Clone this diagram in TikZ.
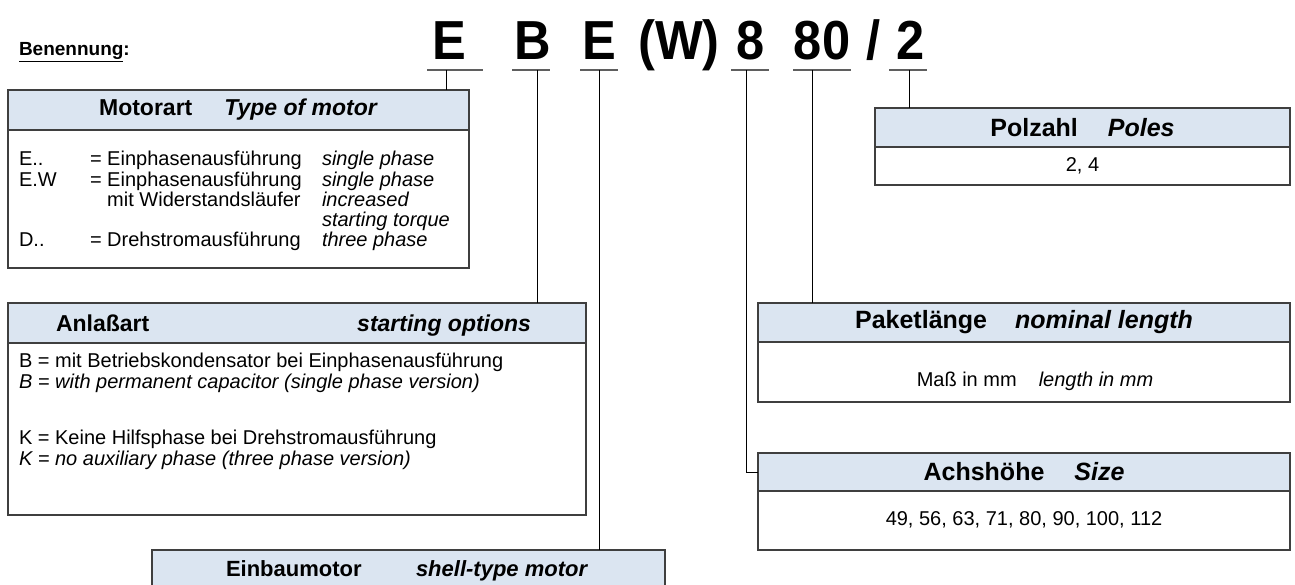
\documentclass[tikz,border=0pt]{standalone}
\usepackage{fontspec}
\setmainfont{Liberation Sans}
\usetikzlibrary{positioning}
\definecolor{headblue}{HTML}{DBE5F1}
\definecolor{boxgray}{HTML}{3F3F3F}
\definecolor{linegray}{HTML}{5F5F5F}

\begin{document}
\begin{tikzpicture}[x=1pt,y=-1pt,every node/.style={outer sep=0pt,inner sep=0pt}]
\tikzstyle{head}=[draw=boxgray,fill=headblue,line width=1.4pt,font=\fontsize{23}{26}\selectfont\bfseries]
\tikzstyle{headr}=[head,font=\fontsize{25}{30}\selectfont\bfseries]
\tikzstyle{htxt}=[font=\fontsize{23}{26}\selectfont\bfseries]
\tikzstyle{body}=[draw=boxgray,line width=1.4pt]
\tikzstyle{big}=[font=\fontsize{55}{60}\selectfont\bfseries,xscale=0.92,transform shape]
\tikzstyle{txt}=[font=\fontsize{20}{19}\selectfont]
\tikzstyle{txtb}=[font=\fontsize{20}{21}\selectfont]
\tikzstyle{uline}=[draw=linegray,line width=2pt]
\tikzstyle{con}=[draw=black,line width=1pt]

\useasboundingbox (0,0) rectangle (1295,585);

\node (ben) [font=\fontsize{19}{22}\selectfont\bfseries, anchor=base west] at (19,56) {\underline{Benennung}:};

% type code
\node (tE1) [big, anchor=base] at (449,60) {E};
\node (tB) [big, anchor=base] at (533,60) {B};
\node (tE2) [big, anchor=base] at (599,60) {E};
\node (tW) [big, anchor=base] at (679,60) {(W)};
\node (t8) [big, anchor=base] at (751,60) {8};
\node (t80) [big, anchor=base] at (822,60) {80};
\node (tsl) [big, anchor=base] at (874,60) {/};
\node (t2) [big, anchor=base] at (911,60) {2};

\foreach \a/\b in {427/483,512/550,580/618,731/769,793/851,889/927}
  \draw[uline] (\a,70) -- (\b,70);

\coordinate (lE1) at (446,70);
\coordinate (lB) at (537,70);
\coordinate (lE2) at (599,70);
\coordinate (l8) at (746,70);
\coordinate (l80) at (812,70);
\coordinate (l2) at (909,70);

% Motorart
\node (motH) [head, minimum width=461pt, minimum height=40pt, anchor=north west] at (8,90) {Motorart\hspace{32pt}\textit{Type of motor}};
\node (motB) [body, minimum width=461pt, minimum height=138pt, below=0pt of motH] {};
\node (motT) [txt, anchor=base west] at (19,166) {\begin{tabular}[t]{@{}p{71pt}@{}p{232pt}@{}l@{}}
E.. & = Einphasenausführung & \textit{single phase}\\
E.W & = Einphasenausführung & \textit{single phase}\\
 & \hphantom{= }mit Widerstandsläufer & \textit{increased}\\
 & & \textit{starting torque}\\
D.. & = Drehstromausführung & \textit{three phase}
\end{tabular}};

% Anlassart
\node (anlH) [head, minimum width=578pt, minimum height=40pt, anchor=north west] at (8,303) {};
\node (anlB) [body, minimum width=578pt, minimum height=172pt, below=0pt of anlH] {};
\node (anlL) [htxt, anchor=base west] at (56,331) {Anlaßart};
\node (anlR) [htxt, font=\fontsize{23}{26}\selectfont\bfseries\itshape, anchor=base east] at (531,331) {starting options};
\node (anlT1) [txtb, anchor=base west, align=left] at (19,388) {B = mit Betriebskondensator bei Einphasenausführung\\\textit{B = with permanent capacitor (single phase version)}};
\node (anlT2) [txtb, anchor=base west, align=left] at (19,465) {K = Keine Hilfsphase bei Drehstromausführung\\\textit{K = no auxiliary phase (three phase version)}};

% Einbaumotor
\node (einH) [head, minimum width=513pt, minimum height=48pt, anchor=north west] at (152,550) {};
\node (einL) [htxt, font=\fontsize{22}{26}\selectfont\bfseries, anchor=base west] at (226,576) {Einbaumotor};
\node (einR) [htxt, font=\fontsize{22}{26}\selectfont\bfseries\itshape, anchor=base west] at (416,576) {shell-type motor};

% Polzahl
\node (polH) [headr, minimum width=415pt, minimum height=39pt, anchor=north west] at (875,108) {Polzahl\hspace{30pt}\textit{Poles}};
\node (polB) [body, txt, minimum width=415pt, minimum height=38pt, below=0pt of polH] {2, 4};

% Paketlaenge
\node (pakH) [headr, minimum width=532pt, minimum height=39pt, anchor=north west] at (758,303) {Paketlänge\hspace{28pt}\textit{nominal length}};
\node (pakB) [body, minimum width=532pt, minimum height=60pt, below=0pt of pakH] {};
\node (pakT) [txt, anchor=base] at (1035,386) {Maß in mm\hspace{22pt}\textit{length in mm}};

% Achshoehe
\node (achH) [headr, minimum width=532pt, minimum height=38pt, anchor=north west] at (758,453) {Achshöhe\hspace{30pt}\textit{Size}};
\node (achB) [body, minimum width=532pt, minimum height=59pt, below=0pt of achH] {};
\node (achT) [txt, anchor=base] at (1024,525) {49, 56, 63, 71, 80, 90, 100, 112};

% connectors
\draw[con] (lE1) -- (lE1 |- motH.north);
\draw[con] (lB) -- (lB |- anlH.north);
\draw[con] (lE2) -- (lE2 |- einH.north);
\draw[con] (l8) |- (achH.west);
\draw[con] (l80) -- (l80 |- pakH.north);
\draw[con] (l2) -- (l2 |- polH.north);
\end{tikzpicture}
\end{document}
